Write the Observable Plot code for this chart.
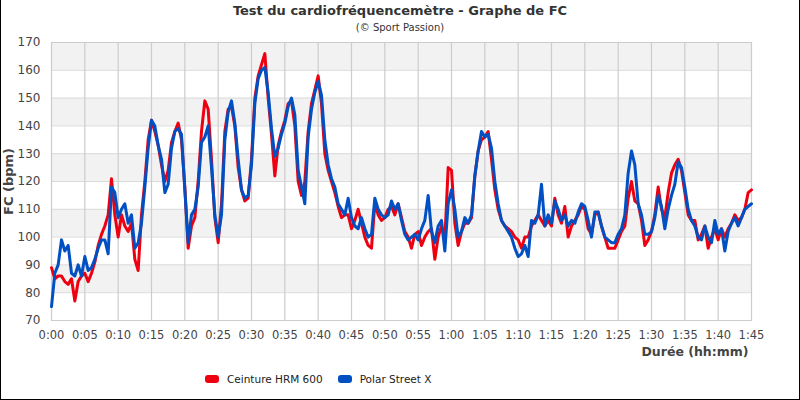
<!DOCTYPE html>
<html lang="fr">
<head>
<meta charset="utf-8">
<script src="https://cdn.jsdelivr.net/npm/d3@7"></script>
<script src="https://cdn.jsdelivr.net/npm/@observablehq/plot@0.6"></script>
<style>
  body { margin: 0; background: #fff; }
  #chart { position: relative; width: 800px; height: 400px; overflow: hidden;
           font-family: "DejaVu Sans", sans-serif; color: #333; }
  #chart svg { position: absolute; left: 0; top: 0; }
  .title { position: absolute; left: 0; top: 2px; width: 800px; text-align: center;
           font-weight: bold; font-size: 13px; line-height: 18px; color: #333; }
  .subtitle { position: absolute; left: 0; top: 21px; width: 800px; text-align: center;
              font-size: 10px; line-height: 14px; color: #333; }
  .legend { position: absolute; left: 205px; top: 371px; display: flex; align-items: center;
            font-size: 10.5px; line-height: 16px; color: #222; }
  .legend .item { display: flex; align-items: center; margin-right: 15px; }
  .legend .swatch { width: 14px; height: 8px; border-radius: 3px; margin-right: 8px; }
  .edge { position: absolute; inset: 0; border: 1px solid #000; border-top: none; pointer-events: none; }
</style>
</head>
<body>
<div id="chart">
  <div class="title"></div>
  <div class="subtitle"></div>
  <div class="legend"></div>
  <div class="edge"></div>
</div>
<script>
// Heart-rate recordings, one reading every half minute from 0:00 to 1:45
const sampleStep = 0.5; // minutes between readings

const seriesNames = ["Ceinture HRM 600", "Polar Street X"];
const seriesColors = ["#ee0010", "#0050c4"];

const hrm600 = [
  89, 85, 86, 86, 84, 83, 85, 77, 84, 86,
  87, 84, 87, 91, 97, 101, 104, 108, 121, 108,
  100, 108, 104, 102, 105, 92, 88, 108, 120, 135,
  142, 138, 133, 126, 120, 124, 134, 138, 141, 135,
  118, 96, 104, 107, 120, 138, 149, 146, 128, 107,
  98, 112, 138, 146, 147, 140, 125, 117, 113, 114,
  128, 150, 158, 162, 166, 150, 137, 122, 133, 138,
  142, 148, 149, 140, 120, 115, 120, 138, 148, 153,
  158, 148, 130, 124, 120, 116, 111, 107, 108, 108,
  103, 106, 110, 105, 100, 97, 96, 112, 108, 106,
  107, 110, 111, 108, 112, 107, 102, 100, 96, 101,
  102, 97, 100, 102, 103, 92, 100, 104, 99, 125,
  124, 105, 97, 102, 105, 105, 107, 122, 131, 135,
  136, 138, 128, 117, 110, 106, 104, 103, 102, 100,
  99, 96, 100, 100, 104, 106, 108, 106, 104, 106,
  104, 114, 108, 105, 111, 100, 104, 106, 108, 111,
  110, 103, 101, 108, 109, 104, 100, 96, 96, 96,
  99, 102, 104, 114, 120, 113, 112, 106, 97, 99,
  102, 108, 118, 110, 107, 116, 123, 126, 128, 124,
  116, 108, 106, 106, 99, 101, 104, 96, 100, 103,
  99, 103, 100, 103, 105, 108, 106, 107, 110, 116,
  117
];

const polarStreetX = [
  75, 87, 90, 99, 95, 97, 87, 86, 90, 86,
  93, 88, 89, 92, 96, 99, 99, 94, 118, 116,
  107, 110, 112, 105, 108, 96, 98, 105, 118, 132,
  142, 140, 133, 128, 116, 119, 132, 138, 139, 137,
  117, 98, 108, 110, 118, 134, 136, 140, 125, 108,
  100, 108, 135, 145, 149, 141, 128, 117, 114, 115,
  126, 148, 157, 160, 161, 152, 139, 129, 132, 137,
  141, 147, 150, 144, 124, 118, 112, 136, 146, 152,
  156, 151, 135, 126, 121, 118, 112, 110, 108, 114,
  107, 104, 103, 107, 103, 100, 101, 114, 110, 108,
  107, 108, 113, 110, 112, 106, 101, 99, 100, 101,
  99, 103, 106, 115, 102, 98, 104, 106, 95, 112,
  117, 110, 100, 102, 107, 105, 108, 122, 131, 138,
  136, 137, 132, 120, 112, 106, 104, 102, 100, 96,
  93, 94, 97, 93, 106, 105, 108, 119, 104, 108,
  105, 113, 110, 106, 108, 104, 106, 105, 109, 112,
  111, 106, 100, 109, 109, 104, 100, 99, 98, 98,
  101, 103, 108, 123, 131, 126, 112, 108, 101, 101,
  102, 107, 115, 111, 103, 110, 115, 119, 127, 125,
  118, 110, 106, 104, 100, 99, 104, 100, 98, 106,
  101, 103, 95, 102, 105, 107, 104, 107, 110, 111,
  112
];

// Axis ticks
const xTicks = [0, 5, 10, 15, 20, 25, 30, 35, 40, 45, 50, 55, 60, 65, 70, 75, 80, 85, 90, 95, 100, 105];
const xTickLabels = ["0:00", "0:05", "0:10", "0:15", "0:20", "0:25", "0:30", "0:35", "0:40", "0:45", "0:50",
  "0:55", "1:00", "1:05", "1:10", "1:15", "1:20", "1:25", "1:30", "1:35", "1:40", "1:45"];
const yTicks = [70, 80, 90, 100, 110, 120, 130, 140, 150, 160, 170];
const shadedBands = [[80, 90], [100, 110], [120, 130], [140, 150], [160, 170]];

const titleText = "Test du cardiofréquencemètre - Graphe de FC";
const subtitleText = "(© Sport Passion)";
const xTitle = "Durée (hh:mm)";
const yTitle = "FC (bpm)";

const toRows = values => values.map((bpm, i) => ({minute: i * sampleStep, bpm}));
const rowsHrm = toRows(hrm600);
const rowsPolar = toRows(polarStreetX);

const chart = Plot.plot({
  width: 800,
  height: 400,
  marginTop: 42,
  marginBottom: 80,
  marginLeft: 51,
  marginRight: 49,
  style: {fontFamily: "DejaVu Sans, sans-serif", fontSize: "11px", color: "#444", background: "transparent"},
  x: {domain: [0, 105]},
  y: {domain: [70, 170]},
  marks: [
    Plot.rect(shadedBands, {y1: d => d[0], y2: d => d[1], fill: "#f2f2f2"}),
    Plot.gridY(yTicks, {stroke: "#dadada", strokeOpacity: 1}),
    Plot.gridX(xTicks, {stroke: "#cccccc", strokeOpacity: 1, strokeWidth: 1.2}),
    Plot.frame({stroke: "#cccccc"}),
    Plot.axisY(yTicks, {tickSize: 0, tickPadding: 11, fontSize: 12, fill: "#444", label: null}),
    Plot.axisX(xTicks, {tickSize: 0, tickPadding: 10, fontSize: 11.5, fill: "#444", label: null,
      tickFormat: m => xTickLabels[xTicks.indexOf(m)]}),
    Plot.line(rowsHrm, {x: "minute", y: "bpm", stroke: seriesColors[0], strokeWidth: 3}),
    Plot.line(rowsPolar, {x: "minute", y: "bpm", stroke: seriesColors[1], strokeWidth: 3}),
    Plot.text([xTitle], {frameAnchor: "bottom-right", dx: -3, dy: 35, textAnchor: "end",
      fontWeight: "bold", fontSize: 12.5, fill: "#444", text: d => d}),
    Plot.text([yTitle], {frameAnchor: "left", dx: -43, rotate: -90, textAnchor: "middle", lineAnchor: "middle",
      fontWeight: "bold", fontSize: 13, fill: "#444", text: d => d})
  ]
});

const root = document.getElementById("chart");
root.insertBefore(chart, root.firstChild);
root.querySelector(".title").textContent = titleText;
root.querySelector(".subtitle").textContent = subtitleText;

const legend = root.querySelector(".legend");
seriesNames.forEach((name, i) => {
  const item = document.createElement("div");
  item.className = "item";
  const sw = document.createElement("span");
  sw.className = "swatch";
  sw.style.background = seriesColors[i];
  const label = document.createElement("span");
  label.textContent = name;
  item.append(sw, label);
  legend.append(item);
});
</script>
</body>
</html>
